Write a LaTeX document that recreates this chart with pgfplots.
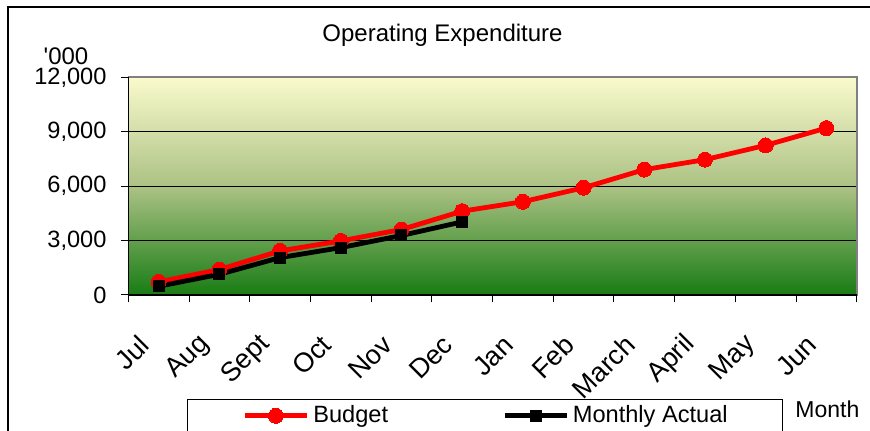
\documentclass[border=0pt]{standalone}
\usepackage{fontspec}
\setmainfont{Liberation Sans}
\usepackage{pgfplots}
\pgfplotsset{compat=1.18}
\definecolor{bgtop}{RGB}{250,250,205}
\definecolor{bgmid}{RGB}{172,194,132}
\definecolor{bgbot}{RGB}{24,124,20}
\definecolor{plotborder}{RGB}{128,128,128}
\begin{document}
\begin{tikzpicture}
\useasboundingbox (0,0) rectangle (435pt,215.5pt);
\draw[line width=1pt] (4pt,-20pt) rectangle (460pt,212pt);
\node[anchor=base, inner sep=0pt, font=\fontsize{12}{14}\selectfont] at (221.25pt,194.65pt) {Operating Expenditure};
\node[anchor=base, inner sep=0pt, font=\fontsize{12}{14}\selectfont] at (33pt,183pt) {\textquotesingle 000};
\node[anchor=base west, inner sep=0pt, font=\fontsize{11.5}{13}\selectfont] at (397.5pt,6.5pt) {Month};
\begin{axis}[
  name=ax,
  at={(64.15pt,68pt)}, anchor=south west,
  scale only axis, width=364.2pt, height=108.85pt,
  xmin=-0.5, xmax=11.5, ymin=0, ymax=12000,
  axis background/.style={top color=bgtop, bottom color=bgbot, middle color=bgmid},
  axis line style={plotborder, line width=0.8pt},
  tick align=outside, tick pos=left, major tick length=3.75pt,
  tick style={black, line width=0.5pt},
  xtick={-0.5,0.5,...,11.5},
  xticklabels={Jul,Aug,Sept,Oct,Nov,Dec,Jan,Feb,March,April,May,Jun,{}},
  xticklabel style={font=\fontsize{13.5}{16}\selectfont, inner sep=0pt, xshift=8.2pt, yshift=-18.8pt, rotate=45, anchor=east},
  ytick={0,3000,6000,9000,12000},
  scaled y ticks=false,
  yticklabel style={font=\fontsize{11.8}{13}\selectfont, inner sep=0pt, xshift=-6.95pt, /pgf/number format/1000 sep={,}, /pgf/number format/assume math mode=true},
  ymajorgrids, grid style={black, line width=0.6pt},
  legend style={at={(0.0806,-0.4791)}, anchor=north west, draw=black, line width=0.5pt, fill=white,
    inner xsep=27.5pt, inner ysep=3pt, font=\fontsize{11.8}{13}\selectfont,
    legend columns=2,
    /tikz/every even column/.append style={column sep=57pt},
    /tikz/every odd column/.append style={column sep=2pt},
    nodes={inner sep=0pt}},
  legend image code/.code={\draw[#1, mark repeat=2, mark phase=2] plot coordinates {(0pt,0pt) (15.5pt,0pt) (31pt,0pt)};},
]
\addplot[red, line width=2.4pt, mark=*, mark size=3.75pt, mark options={solid, fill=red, line width=0pt}]
  coordinates {(0,720) (1,1400) (2,2430) (3,2980) (4,3610) (5,4620) (6,5140) (7,5910) (8,6910) (9,7460) (10,8250) (11,9200)};
\addlegendentry{Budget}
\addplot[black, line width=2.4pt, mark=square*, mark size=2.75pt, mark options={solid, fill=black, line width=0pt}]
  coordinates {(0,480) (1,1140) (2,2060) (3,2610) (4,3280) (5,4030)};
\addlegendentry{Monthly Actual}
\end{axis}
\draw[black, line width=0.8pt] (ax.north west) -- (ax.south west) -- (ax.south east);
\end{tikzpicture}
\end{document}
